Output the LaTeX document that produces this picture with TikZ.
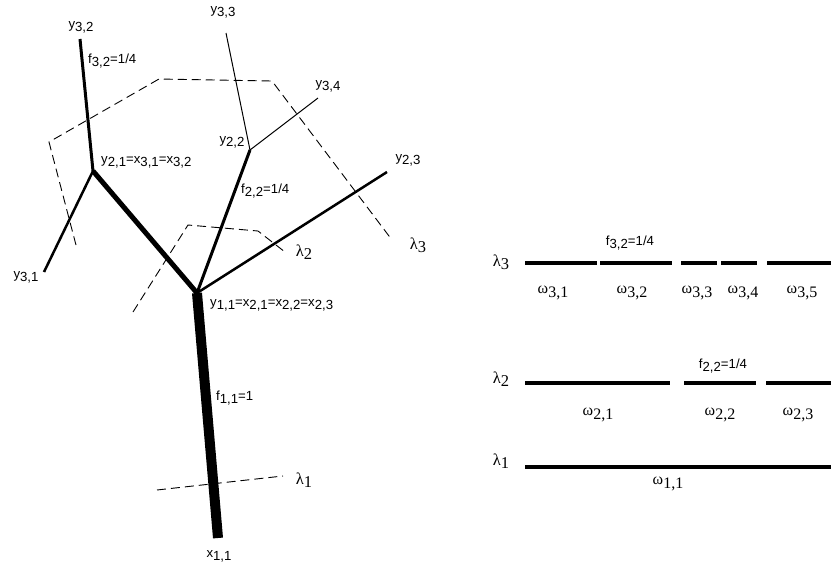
\documentclass[tikz,border=0pt]{standalone}
\usepackage{fontspec}
\setmainfont{Liberation Sans}
\newfontfamily\grk{Liberation Serif}
\newcommand\lo[1]{\raisebox{-0.45ex}{#1}}
\newcommand\lam[1]{{\grk\fontsize{16.5}{18}\selectfont λ\lo{#1}}}
\newcommand\om[1]{{\grk\fontsize{16}{18}\selectfont ω\raisebox{-0.55ex}{#1}}}
\tikzset{
  branch/.style={line cap=butt},
  level/.style={dashed, dash pattern=on 9pt off 5pt, line width=0.9pt},
  bar/.style={line width=4.5pt},
  lab/.style={inner sep=1pt, font=\fontsize{13.2}{15}\selectfont}
}
\begin{document}
\begin{tikzpicture}[x=1pt, y=-1pt]
      \useasboundingbox (0,0) rectangle (831,574);
      % Tree points
      \coordinate (x11) at (218,538);
      \coordinate (y11) at (197,293);
      \coordinate (y21) at (93,171);
      \coordinate (y22) at (250,150);
      \coordinate (y23) at (387,172);
      \coordinate (y31) at (44,272);
      \coordinate (y32) at (80,39);
      \coordinate (y33) at (226,33);
      \coordinate (y34) at (318,98);

      % Branches
      \draw[branch,line width=10pt] (x11) -- (y11);
      \draw[branch,line width=5pt] (y11) -- (y21);
      \draw[branch,line width=3pt] (y11) -- (y22);
      \draw[branch,line width=2.5pt] (y11) -- (y23);
      \draw[branch,line width=3pt] (y21) -- (y32);
      \draw[branch,line width=2.5pt] (y21) -- (y31);
      \draw[branch,line width=1pt] (y22) -- (y33);
      \draw[branch,line width=1pt] (y22) -- (y34);

      % Levels
      \draw[level] (157,490) -- (283,476);
      \draw[level] (133,312) -- (188,225) -- (258,231) -- (285,252);
      \draw[level] (76,245) -- (49,142) -- (159,79) -- (272,81) -- (392,240);

      % Tree labels
      \node[lab] (tx11) at (219,556) {x\lo{1,1}};
      \node[lab,anchor=west] (ty11) at (209,305) {y\lo{1,1}=x\lo{2,1}=x\lo{2,2}=x\lo{2,3}};
      \node[lab,anchor=west] (tf11) at (215,398) {f\lo{1,1}=1};
      \node[lab,anchor=west] (ty21) at (100,162) {y\lo{2,1}=x\lo{3,1}=x\lo{3,2}};
      \node[lab] (ty22) at (232,142) {y\lo{2,2}};
      \node[lab,anchor=west] (tf22) at (240,191) {f\lo{2,2}=1/4};
      \node[lab] (ty23) at (408,160) {y\lo{2,3}};
      \node[lab] (ty31) at (26,277) {y\lo{3,1}};
      \node[lab] (ty32) at (81,27) {y\lo{3,2}};
      \node[lab,anchor=west] (tf32) at (87,61) {f\lo{3,2}=1/4};
      \node[lab] (ty33) at (223,12) {y\lo{3,3}};
      \node[lab] (ty34) at (328,86) {y\lo{3,4}};
      \node[inner sep=0pt] (tl1) at (304,480) {\lam{1}};
      \node[inner sep=0pt] (tl2) at (304,252) {\lam{2}};
      \node[inner sep=0pt] (tl3) at (418,245) {\lam{3}};

      % Partitions
      \node[inner sep=0pt] (pl3) at (501,262) {\lam{3}};
      \node[inner sep=0pt] (pl2) at (501,379) {\lam{2}};
      \node[inner sep=0pt] (pl1) at (501,461) {\lam{1}};
      \foreach \a/\b in {525/597, 600/672, 681/717, 721/757, 767/831}
        \draw[bar] (\a,263) -- (\b,263);
      \foreach \a/\b in {525/670, 684/756, 766/831}
        \draw[bar] (\a,383) -- (\b,383);
      \draw[bar] (525,467) -- (831,467);
      \node[lab] (pf32) at (630,243) {f\lo{3,2}=1/4};
      \node[lab] (pf22) at (723,366) {f\lo{2,2}=1/4};
      \foreach \x/\i in {553/{3,1}, 632/{3,2}, 697/{3,3}, 743/{3,4}, 802/{3,5}}
        \node (w\x) at (\x,293) {\om{\i}};
      \foreach \x/\i in {598/{2,1}, 720/{2,2}, 798/{2,3}}
        \node (v\x) at (\x,415) {\om{\i}};
      \node (w11) at (668,484) {\om{1,1}};
    \end{tikzpicture}
\end{document}
